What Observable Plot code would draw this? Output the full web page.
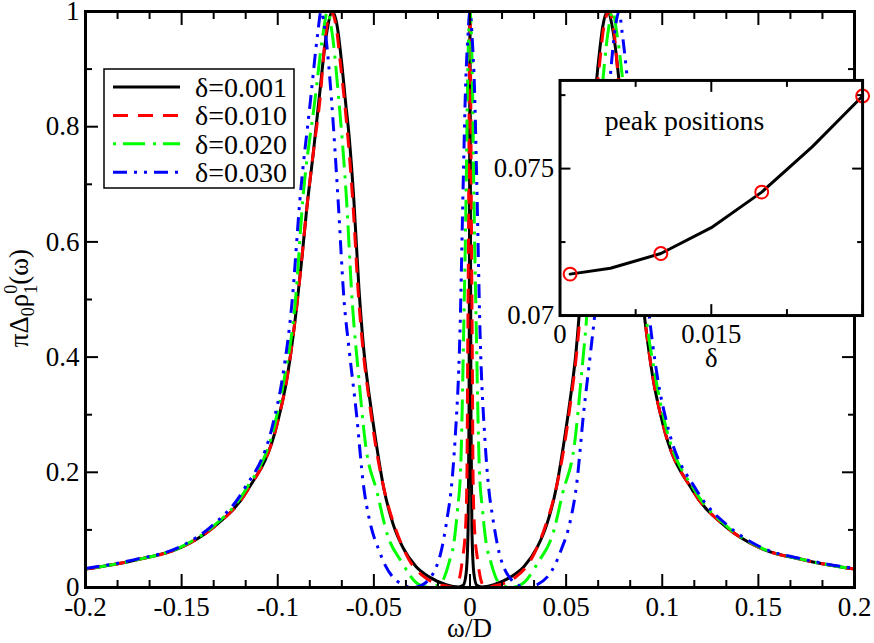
<!DOCTYPE html>
<html><head><meta charset="utf-8">
<script src="https://cdn.jsdelivr.net/npm/d3@7"></script>
<script src="https://cdn.jsdelivr.net/npm/@observablehq/plot@0.6"></script>
<style>
body{margin:0;background:#fff;}
#wrap{position:relative;width:874px;height:643px;}
#inset{position:absolute;left:498px;top:72px;}
</style></head><body><div id="wrap"><div id="main"></div><div id="inset"></div></div>
<script>
// ---------- main chart data ----------
const seriesNames = ["δ=0.001","δ=0.010","δ=0.020","δ=0.030"];
const seriesColors = ["#000000","#ff0000","#00ff00","#0000ff"];
const seriesDash = [null,"15,10","3,7,22,8","14,7,3,7,3,7"];

const omega001 = [-0.2,-0.175,-0.15,-0.1333,-0.1159,-0.1003,-0.0951,-0.0899,-0.0875,-0.085,-0.0815,-0.0786,-0.0746,-0.0715,-0.0691,-0.0665,-0.0648,-0.063,-0.0604,-0.0578,-0.0552,-0.0518,-0.049,-0.045,-0.04,-0.035,-0.028,-0.0211,-0.0124,-0.006,-0.0035,-0.002,-0.001,-0.0005,-0.0002,0,0.0002,0.0005,0.001,0.002,0.0035,0.006,0.0124,0.0211,0.028,0.035,0.04,0.045,0.049,0.0518,0.0552,0.0578,0.0604,0.063,0.0648,0.0665,0.0691,0.0715,0.0746,0.0786,0.0815,0.085,0.0875,0.0899,0.0951,0.1003,0.1159,0.1333,0.15,0.175,0.2];
const rho001 = [0.032,0.047,0.07,0.105,0.168,0.284,0.365,0.495,0.57,0.655,0.755,0.845,0.962,1,0.975,0.903,0.845,0.788,0.672,0.521,0.411,0.319,0.255,0.175,0.11,0.07,0.036,0.018,0.005,0.001,0.004,0.025,0.1,0.3,0.7,1,0.7,0.3,0.1,0.025,0.004,0.001,0.005,0.018,0.036,0.07,0.11,0.175,0.255,0.319,0.411,0.521,0.672,0.788,0.845,0.903,0.975,1,0.962,0.845,0.755,0.655,0.57,0.495,0.365,0.284,0.168,0.105,0.07,0.047,0.032];

const omega010 = [-0.2,-0.175,-0.15,-0.1333,-0.1159,-0.1003,-0.0951,-0.0899,-0.0875,-0.085,-0.0815,-0.0781,-0.075,-0.0724,-0.0697,-0.0672,-0.0653,-0.061,-0.058,-0.0556,-0.0522,-0.0495,-0.0448,-0.0384,-0.0315,-0.0245,-0.0176,-0.0115,-0.0085,-0.0063,-0.004,-0.0023,-0.0016,-0.0012,-0.0008,-0.0004,0,0.0004,0.0008,0.0012,0.0016,0.0023,0.004,0.0063,0.0085,0.0115,0.0176,0.0245,0.0315,0.0384,0.0448,0.0495,0.0522,0.0556,0.058,0.061,0.0653,0.0672,0.0697,0.0724,0.075,0.0781,0.0815,0.085,0.0875,0.0899,0.0951,0.1003,0.1159,0.1333,0.15,0.175,0.2];
const rho010 = [0.032,0.047,0.07,0.105,0.168,0.284,0.365,0.495,0.57,0.655,0.755,0.845,0.962,1,0.975,0.903,0.845,0.672,0.505,0.411,0.319,0.255,0.172,0.099,0.047,0.02,0.007,0.002,0,0.007,0.047,0.105,0.19,0.4,0.6,0.85,1,0.85,0.6,0.4,0.19,0.105,0.047,0.007,0,0.002,0.007,0.02,0.047,0.099,0.172,0.255,0.319,0.411,0.505,0.672,0.845,0.903,0.975,1,0.962,0.845,0.755,0.655,0.57,0.495,0.365,0.284,0.168,0.105,0.07,0.047,0.032];

const omega020 = [-0.2,-0.175,-0.15,-0.134,-0.117,-0.1015,-0.0965,-0.0908,-0.087,-0.0807,-0.0764,-0.0742,-0.0717,-0.0682,-0.0642,-0.0613,-0.058,-0.0544,-0.0483,-0.0431,-0.0355,-0.027,-0.021,-0.016,-0.0136,-0.0105,-0.0085,-0.0065,-0.0049,-0.0032,-0.002,-0.0014,-0.0008,0,0.0008,0.0014,0.002,0.0032,0.0049,0.0065,0.0085,0.0105,0.0136,0.016,0.021,0.027,0.0355,0.0431,0.0483,0.0544,0.058,0.0613,0.0642,0.0682,0.0717,0.0742,0.0764,0.0807,0.087,0.0908,0.0965,0.1015,0.117,0.134,0.15,0.175,0.2];
const rho020 = [0.032,0.047,0.071,0.105,0.168,0.284,0.365,0.498,0.672,0.845,0.962,1,0.962,0.845,0.672,0.498,0.37,0.25,0.165,0.093,0.044,0.006,0,0.006,0.016,0.048,0.075,0.135,0.203,0.46,0.69,0.85,0.95,1,0.95,0.85,0.69,0.46,0.203,0.135,0.075,0.048,0.016,0.006,0,0.006,0.044,0.093,0.165,0.25,0.37,0.498,0.672,0.845,0.962,1,0.962,0.845,0.672,0.498,0.365,0.284,0.168,0.105,0.071,0.047,0.032];

const omega030 = [-0.2,-0.175,-0.15,-0.135,-0.118,-0.1025,-0.0975,-0.0925,-0.0885,-0.083,-0.0792,-0.0775,-0.0752,-0.072,-0.0686,-0.0655,-0.0628,-0.059,-0.0555,-0.052,-0.0475,-0.044,-0.0401,-0.0355,-0.0295,-0.025,-0.0214,-0.018,-0.0152,-0.0119,-0.0095,-0.0078,-0.0052,-0.0035,-0.0023,-0.0012,0,0.0012,0.0023,0.0035,0.0052,0.0078,0.0095,0.0119,0.0152,0.018,0.0214,0.025,0.0295,0.0355,0.0401,0.044,0.0475,0.052,0.0555,0.059,0.0628,0.0655,0.0686,0.072,0.0752,0.0775,0.0792,0.083,0.0885,0.0925,0.0975,0.1025,0.118,0.135,0.15,0.175,0.2];
const rho030 = [0.033,0.048,0.072,0.105,0.168,0.284,0.365,0.498,0.672,0.845,0.962,1,0.962,0.845,0.672,0.498,0.411,0.3,0.18,0.113,0.066,0.038,0.018,0.006,0,0.004,0.014,0.032,0.06,0.12,0.18,0.255,0.446,0.707,0.87,0.95,1,0.95,0.87,0.707,0.446,0.255,0.18,0.12,0.06,0.032,0.014,0.004,0,0.006,0.018,0.038,0.066,0.113,0.18,0.3,0.411,0.498,0.672,0.845,0.962,1,0.962,0.845,0.672,0.498,0.365,0.284,0.168,0.105,0.072,0.048,0.033];

const xMajor = [-0.2,-0.15,-0.1,-0.05,0,0.05,0.1,0.15,0.2];
const xMajorLabels = ["-0.2","-0.15","-0.1","-0.05","0","0.05","0.1","0.15","0.2"];
const xMinor = [-0.18333,-0.16667,-0.13333,-0.11667,-0.08333,-0.06667,-0.03333,-0.01667,0.01667,0.03333,0.06667,0.08333,0.11667,0.13333,0.16667,0.18333];
const yMajor = [0,0.2,0.4,0.6,0.8,1];
const yMajorLabels = ["0","0.2","0.4","0.6","0.8","1"];
const yMinor = [0.1,0.3,0.5,0.7,0.9];

// ---------- inset data ----------
const insetDeltaLine = [0.001,0.005,0.010,0.015,0.020,0.025,0.030];
const insetPeakLine = [0.07141,0.07161,0.07211,0.07299,0.0742,0.07574,0.07747];
const insetDeltaPts = [0.001,0.010,0.020,0.030];
const insetPeakPts = [0.07141,0.07211,0.0742,0.07747];
const insetXMajor = [0,0.015,0.03];
const insetXLabels = ["0","0.015",""];
const insetXMinor = [0.0075,0.0225];
const insetYMajor = [0.07,0.075];
const insetYLabels = ["0.07","0.075"];
const insetYMinor = [0.0725,0.0775];

const FONT = "Liberation Serif";
const seriesOmega = [omega001,omega010,omega020,omega030];
const seriesRho = [rho001,rho010,rho020,rho030];

const lineMarks = seriesNames.map((name,k) => {
  const rows = seriesOmega[k].map((w,i) => ({w, r: seriesRho[k][i]}));
  return Plot.line(rows, {x:"w", y:"r", stroke: seriesColors[k], strokeWidth:3,
    strokeDasharray: seriesDash[k] || undefined, strokeLinecap:"butt", curve:"monotone-x"});
});

const fmt = (vals, labels) => { const m = new Map(vals.map((v,i)=>[v,labels[i]])); return d => m.get(d) ?? ""; };
const blank = () => "";

const main = Plot.plot({
  width: 874, height: 643,
  marginLeft: 85, marginRight: 20, marginTop: 11, marginBottom: 56,
  style: {fontFamily: FONT},
  x: {domain: [-0.2, 0.2]},
  y: {domain: [0, 1]},
  marks: [
    ...lineMarks,
    Plot.axisX(xMajor, {anchor:"bottom", tickSize:-13, strokeWidth:2, tickFormat: blank, label:null}),
    Plot.axisX(xMinor, {anchor:"bottom", tickSize:-7, strokeWidth:2, tickFormat: blank, label:null}),
    Plot.axisX(xMajor, {anchor:"top", tickSize:-13, strokeWidth:2, tickFormat: blank, label:null}),
    Plot.axisX(xMinor, {anchor:"top", tickSize:-7, strokeWidth:2, tickFormat: blank, label:null}),
    Plot.axisY(yMajor, {anchor:"left", tickSize:-13, strokeWidth:2, tickFormat: blank, label:null}),
    Plot.axisY(yMinor, {anchor:"left", tickSize:-7, strokeWidth:2, tickFormat: blank, label:null}),
    Plot.axisY(yMajor, {anchor:"right", tickSize:-13, strokeWidth:2, tickFormat: blank, label:null}),
    Plot.axisY(yMinor, {anchor:"right", tickSize:-7, strokeWidth:2, tickFormat: blank, label:null}),
    Plot.axisX(xMajor, {anchor:"bottom", tickSize:0, tickPadding:9, fontSize:27, fontFamily:FONT, tickFormat: fmt(xMajor, xMajorLabels), label:null}),
    Plot.axisY(yMajor, {anchor:"left", tickSize:0, tickPadding:6, fontSize:27, fontFamily:FONT, tickFormat: fmt(yMajor, yMajorLabels), label:null}),
    Plot.frame({stroke:"black", strokeWidth:3})
  ]
});
main.style.overflow = "visible";
document.getElementById("main").appendChild(main);

const svg = d3.select(main);
svg.append("text").attr("x", 469.5).attr("y", 637).attr("text-anchor","middle")
  .attr("font-size", 27).text("ω/D");
const yl = svg.append("text").attr("transform","translate(28,298) rotate(-90)")
  .attr("text-anchor","middle").attr("font-size", 27);
yl.append("tspan").text("πΔ");
yl.append("tspan").attr("font-size",18).attr("dy",6).text("0");
yl.append("tspan").attr("dy",-6).text("ρ");
yl.append("tspan").attr("font-size",18).attr("dy",-11).text("0");
yl.append("tspan").attr("font-size",18).attr("dx",-9).attr("dy",20).text("1");
yl.append("tspan").attr("dy",-9).text("(ω)");

const lg = svg.append("g");
lg.append("rect").attr("x",104).attr("y",69).attr("width",190).attr("height",119)
  .attr("fill","white").attr("stroke","black").attr("stroke-width",1.5);
seriesNames.forEach((name,k) => {
  const yy = 87 + k*28.4;
  const ln = lg.append("line").attr("x1",113).attr("x2",180).attr("y1",yy).attr("y2",yy)
    .attr("stroke", seriesColors[k]).attr("stroke-width",3);
  if (seriesDash[k]) ln.attr("stroke-dasharray", seriesDash[k]);
  lg.append("text").attr("x",195).attr("y",yy).attr("dy","0.35em").attr("text-anchor","start")
    .attr("font-size",28).text(name);
});

// ---------- inset ----------
const insetLineRows = insetDeltaLine.map((d,i)=>({d, p: insetPeakLine[i]}));
const insetPtRows = insetDeltaPts.map((d,i)=>({d, p: insetPeakPts[i]}));
const inset = Plot.plot({
  width: 379, height: 305,
  marginLeft: 62, marginRight: 12, marginTop: 8, marginBottom: 60,
  style: {fontFamily: FONT},
  x: {domain: [0, 0.03]},
  y: {domain: [0.07, 0.078]},
  marks: [
    Plot.frame({fill:"white"}),
    Plot.line(insetLineRows, {x:"d", y:"p", stroke:"black", strokeWidth:3}),
    Plot.dot(insetPtRows, {x:"d", y:"p", r:6.5, stroke:"#ff0000", strokeWidth:2, fill:"none"}),
    Plot.axisX(insetXMajor, {anchor:"bottom", tickSize:-11, strokeWidth:2, tickFormat: blank, label:null}),
    Plot.axisX(insetXMinor, {anchor:"bottom", tickSize:-6, strokeWidth:2, tickFormat: blank, label:null}),
    Plot.axisX(insetXMajor, {anchor:"top", tickSize:-11, strokeWidth:2, tickFormat: blank, label:null}),
    Plot.axisX(insetXMinor, {anchor:"top", tickSize:-6, strokeWidth:2, tickFormat: blank, label:null}),
    Plot.axisY(insetYMajor, {anchor:"left", tickSize:-11, strokeWidth:2, tickFormat: blank, label:null}),
    Plot.axisY(insetYMinor, {anchor:"left", tickSize:-6, strokeWidth:2, tickFormat: blank, label:null}),
    Plot.axisY(insetYMajor, {anchor:"right", tickSize:-11, strokeWidth:2, tickFormat: blank, label:null}),
    Plot.axisY(insetYMinor, {anchor:"right", tickSize:-6, strokeWidth:2, tickFormat: blank, label:null}),
    Plot.axisX(insetXMajor, {anchor:"bottom", tickSize:0, tickPadding:8, fontSize:27, fontFamily:FONT, tickFormat: fmt(insetXMajor, insetXLabels), label:null}),
    Plot.axisY(insetYMajor, {anchor:"left", tickSize:0, tickPadding:6, fontSize:27, fontFamily:FONT, tickFormat: fmt(insetYMajor, insetYLabels), label:null}),
    Plot.text(["peak positions"], {frameAnchor:"top-left", textAnchor:"start", lineAnchor:"middle", dx:45, dy:41, fontSize:28, fontFamily: FONT, fill:"black"}),
    Plot.frame({stroke:"black", strokeWidth:3})
  ]
});
inset.style.overflow = "visible";
inset.style.background = "transparent";
document.getElementById("inset").appendChild(inset);
d3.select(inset).append("text").attr("x", 215).attr("y", 297).attr("text-anchor","middle")
  .attr("font-size", 27).text("δ");

d3.selectAll("svg, svg g, svg text, svg tspan").style("font-family", "'Liberation Serif', serif");
</script></body></html>
